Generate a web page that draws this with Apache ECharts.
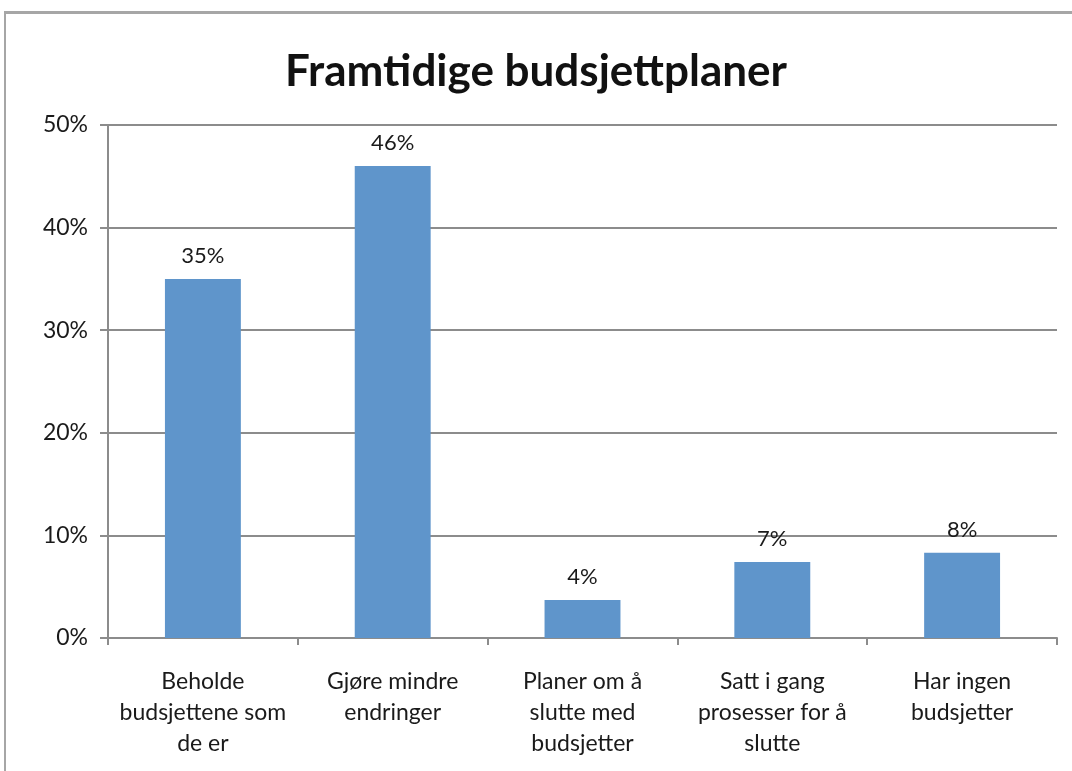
<!DOCTYPE html>
<html><head><meta charset="utf-8">
<script src="https://cdn.jsdelivr.net/npm/echarts@6/dist/echarts.min.js"></script>
<style>
html,body{margin:0;padding:0;background:#fff;}
#frame{position:absolute;left:4px;top:11px;width:1068px;height:760px;border-top:3px solid #a6a6a6;border-left:2px solid #a6a6a6;box-sizing:border-box;}
#c{position:absolute;left:0;top:0;width:1072px;height:771px;}
</style></head>
<body>
<div id="frame"></div>
<div id="c"></div>
<script>
const title = "Framtidige budsjettplaner";
const categories = [
  "Beholde\nbudsjettene som\nde er",
  "Gjøre mindre\nendringer",
  "Planer om å\nslutte med\nbudsjetter",
  "Satt i gang\nprosesser for å\nslutte",
  "Har ingen\nbudsjetter"
];
const values = [35, 46, 3.7, 7.4, 8.3];
const yTicks = [0, 10, 20, 30, 40, 50];

const font = "Lato, 'Open Sans', sans-serif";
const chart = echarts.init(document.getElementById('c'), null, {renderer:'canvas'});
chart.setOption({
  animation:false,
  title:{text:title,left:'center',top:45,textStyle:{fontFamily:font,fontWeight:'bold',fontSize:44,color:'#111'}},
  grid:{left:108,right:15,top:125,bottom:133,containLabel:false},
  xAxis:{type:'category',data:categories,
    axisLine:{lineStyle:{color:'#8c8c8c',width:2}},
    axisTick:{show:true,length:7,lineStyle:{color:'#8c8c8c',width:2}},
    axisLabel:{interval:0,margin:28,fontFamily:font,fontSize:23,lineHeight:31,color:'#1a1a1a'}},
  yAxis:{type:'value',min:0,max:50,interval:10,
    axisLine:{show:true,lineStyle:{color:'#8c8c8c',width:2}},
    axisTick:{show:true,length:8,lineStyle:{color:'#8c8c8c',width:2}},
    splitLine:{lineStyle:{color:'#8c8c8c',width:2}},
    axisLabel:{margin:20,fontFamily:font,fontSize:23,color:'#1a1a1a',
      formatter:v=>yTicks.includes(v)?v+'%':''}},
  series:[{type:'bar',data:values,barWidth:'40%',
    itemStyle:{color:'#5f95cb'},
    label:{show:true,position:'top',distance:12,fontFamily:font,fontSize:22,color:'#1a1a1a',
      formatter:p=>Math.round(p.value)+'%'}}]
});
</script>
</body></html>
